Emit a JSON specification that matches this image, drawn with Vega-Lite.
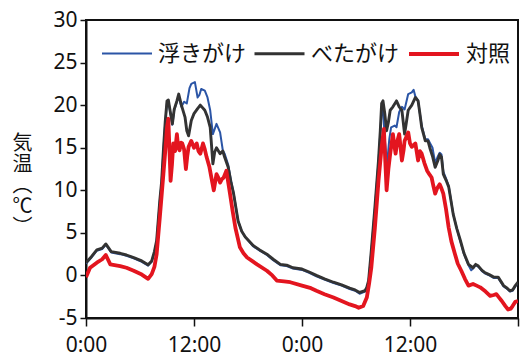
{
  "$schema": "https://vega.github.io/schema/vega-lite/v6.json",
  "width": 432,
  "height": 298,
  "autosize": {"type": "none"},
  "padding": {"left": 86, "top": 20, "right": 11, "bottom": 38},
  "config": {
    "view": {"stroke": "#111", "strokeWidth": 2},
    "font": "Noto Sans CJK JP",
    "background": "white"
  },
  "datasets": {
    "d": [
      {"t":0,"s":"浮きがけ","v":1.4},{"t":0.6,"s":"浮きがけ","v":2.1},{"t":1.2,"s":"浮きがけ","v":2.9},{"t":1.8,"s":"浮きがけ","v":3.1},{"t":2.2,"s":"浮きがけ","v":3.6},{"t":2.8,"s":"浮きがけ","v":2.7},{"t":3.8,"s":"浮きがけ","v":2.5},{"t":4.5,"s":"浮きがけ","v":2.3},{"t":5.3,"s":"浮きがけ","v":2.0},{"t":6.2,"s":"浮きがけ","v":1.6},{"t":6.9,"s":"浮きがけ","v":1.15},{"t":7.3,"s":"浮きがけ","v":1.6},{"t":7.6,"s":"浮きがけ","v":2.7},{"t":7.85,"s":"浮きがけ","v":4.0},{"t":8.2,"s":"浮きがけ","v":8.7},{"t":8.4,"s":"浮きがけ","v":10.9},{"t":8.6,"s":"浮きがけ","v":14.6},{"t":8.8,"s":"浮きがけ","v":17.9},{"t":9.0,"s":"浮きがけ","v":20.3},{"t":9.15,"s":"浮きがけ","v":20.5},{"t":9.4,"s":"浮きがけ","v":18.9},{"t":9.6,"s":"浮きがけ","v":17.7},{"t":9.8,"s":"浮きがけ","v":19.4},{"t":10.1,"s":"浮きがけ","v":20.4},{"t":10.3,"s":"浮きがけ","v":21.0},{"t":10.6,"s":"浮きがけ","v":19.8},{"t":10.9,"s":"浮きがけ","v":20.4},{"t":11.2,"s":"浮きがけ","v":20.2},{"t":11.5,"s":"浮きがけ","v":22.0},{"t":11.7,"s":"浮きがけ","v":22.5},{"t":12.1,"s":"浮きがけ","v":22.7},{"t":12.4,"s":"浮きがけ","v":20.9},{"t":12.6,"s":"浮きがけ","v":21.2},{"t":12.8,"s":"浮きがけ","v":21.9},{"t":13.2,"s":"浮きがけ","v":21.7},{"t":13.5,"s":"浮きがけ","v":20.9},{"t":13.8,"s":"浮きがけ","v":19.4},{"t":14.1,"s":"浮きがけ","v":16.6},{"t":14.5,"s":"浮きがけ","v":17.8},{"t":14.9,"s":"浮きがけ","v":16.8},{"t":15.2,"s":"浮きがけ","v":14.7},{"t":15.4,"s":"浮きがけ","v":14.3},{"t":15.8,"s":"浮きがけ","v":13.0},{"t":16.1,"s":"浮きがけ","v":11.2},{"t":16.4,"s":"浮きがけ","v":9.7},{"t":16.9,"s":"浮きがけ","v":6.4},{"t":17.3,"s":"浮きがけ","v":5.2},{"t":17.7,"s":"浮きがけ","v":4.5},{"t":18.6,"s":"浮きがけ","v":3.4},{"t":19.3,"s":"浮きがけ","v":2.9},{"t":20.1,"s":"浮きがけ","v":2.4},{"t":20.8,"s":"浮きがけ","v":1.8},{"t":21.6,"s":"浮きがけ","v":1.2},{"t":22.3,"s":"浮きがけ","v":1.1},{"t":23.0,"s":"浮きがけ","v":0.8},{"t":24.0,"s":"浮きがけ","v":0.65},{"t":24.8,"s":"浮きがけ","v":0.3},{"t":25.6,"s":"浮きがけ","v":-0.1},{"t":26.5,"s":"浮きがけ","v":-0.5},{"t":27.5,"s":"浮きがけ","v":-0.9},{"t":28.4,"s":"浮きがけ","v":-1.2},{"t":29.3,"s":"浮きがけ","v":-1.6},{"t":29.9,"s":"浮きがけ","v":-1.8},{"t":30.4,"s":"浮きがけ","v":-2.15},{"t":31.0,"s":"浮きがけ","v":-1.9},{"t":31.2,"s":"浮きがけ","v":-1.5},{"t":31.4,"s":"浮きがけ","v":-0.7},{"t":31.7,"s":"浮きがけ","v":2.8},{"t":32.1,"s":"浮きがけ","v":7.9},{"t":32.5,"s":"浮きがけ","v":13.4},{"t":32.7,"s":"浮きがけ","v":16.8},{"t":32.85,"s":"浮きがけ","v":19.4},{"t":33.0,"s":"浮きがけ","v":19.5},{"t":33.2,"s":"浮きがけ","v":16.0},{"t":33.45,"s":"浮きがけ","v":13.1},{"t":33.7,"s":"浮きがけ","v":16.0},{"t":33.9,"s":"浮きがけ","v":17.4},{"t":34.3,"s":"浮きがけ","v":17.6},{"t":34.5,"s":"浮きがけ","v":17.4},{"t":34.8,"s":"浮きがけ","v":19.2},{"t":35.1,"s":"浮きがけ","v":19.8},{"t":35.4,"s":"浮きがけ","v":19.5},{"t":35.8,"s":"浮きがけ","v":21.3},{"t":36.2,"s":"浮きがけ","v":21.5},{"t":36.4,"s":"浮きがけ","v":21.8},{"t":36.6,"s":"浮きがけ","v":21.0},{"t":36.9,"s":"浮きがけ","v":20.5},{"t":37.1,"s":"浮きがけ","v":19.0},{"t":37.3,"s":"浮きがけ","v":17.6},{"t":37.7,"s":"浮きがけ","v":16.0},{"t":38.0,"s":"浮きがけ","v":16.0},{"t":38.2,"s":"浮きがけ","v":15.6},{"t":38.5,"s":"浮きがけ","v":15.0},{"t":38.8,"s":"浮きがけ","v":13.2},{"t":39.1,"s":"浮きがけ","v":14.0},{"t":39.3,"s":"浮きがけ","v":14.4},{"t":39.5,"s":"浮きがけ","v":14.2},{"t":39.7,"s":"浮きがけ","v":12.2},{"t":40.0,"s":"浮きがけ","v":11.4},{"t":40.3,"s":"浮きがけ","v":10.5},{"t":40.8,"s":"浮きがけ","v":7.2},{"t":41.2,"s":"浮きがけ","v":5.5},{"t":41.6,"s":"浮きがけ","v":4.0},{"t":42.0,"s":"浮きがけ","v":2.5},{"t":42.5,"s":"浮きがけ","v":1.2},{"t":42.8,"s":"浮きがけ","v":0.6},{"t":43.0,"s":"浮きがけ","v":0.8},{"t":43.3,"s":"浮きがけ","v":1.2},{"t":43.6,"s":"浮きがけ","v":1.0},{"t":44.0,"s":"浮きがけ","v":0.5},{"t":44.3,"s":"浮きがけ","v":0.25},{"t":44.8,"s":"浮きがけ","v":0.0},{"t":45.3,"s":"浮きがけ","v":-0.3},{"t":45.8,"s":"浮きがけ","v":-0.3},{"t":46.1,"s":"浮きがけ","v":-0.8},{"t":46.4,"s":"浮きがけ","v":-1.3},{"t":46.8,"s":"浮きがけ","v":-1.6},{"t":47.1,"s":"浮きがけ","v":-1.9},{"t":47.4,"s":"浮きがけ","v":-1.8},{"t":47.7,"s":"浮きがけ","v":-1.3},{"t":48.0,"s":"浮きがけ","v":-0.9},

      {"t":0,"s":"べたがけ","v":1.5},{"t":0.6,"s":"べたがけ","v":2.2},{"t":1.2,"s":"べたがけ","v":3.0},{"t":1.8,"s":"べたがけ","v":3.2},{"t":2.2,"s":"べたがけ","v":3.7},{"t":2.8,"s":"べたがけ","v":2.8},{"t":3.8,"s":"べたがけ","v":2.6},{"t":4.5,"s":"べたがけ","v":2.4},{"t":5.3,"s":"べたがけ","v":2.1},{"t":6.2,"s":"べたがけ","v":1.7},{"t":6.9,"s":"べたがけ","v":1.25},{"t":7.3,"s":"べたがけ","v":1.7},{"t":7.6,"s":"べたがけ","v":2.8},{"t":7.85,"s":"べたがけ","v":4.1},{"t":8.2,"s":"べたがけ","v":8.8},{"t":8.4,"s":"べたがけ","v":11.0},{"t":8.6,"s":"べたがけ","v":14.7},{"t":8.8,"s":"べたがけ","v":18.0},{"t":9.0,"s":"べたがけ","v":20.5},{"t":9.15,"s":"べたがけ","v":20.6},{"t":9.4,"s":"べたがけ","v":19.0},{"t":9.6,"s":"べたがけ","v":17.8},{"t":9.8,"s":"べたがけ","v":19.5},{"t":10.1,"s":"べたがけ","v":20.5},{"t":10.3,"s":"べたがけ","v":21.3},{"t":10.6,"s":"べたがけ","v":20.0},{"t":11.0,"s":"べたがけ","v":18.6},{"t":11.2,"s":"べたがけ","v":17.0},{"t":11.4,"s":"べたがけ","v":16.4},{"t":11.7,"s":"べたがけ","v":18.2},{"t":12.0,"s":"べたがけ","v":19.0},{"t":12.4,"s":"べたがけ","v":19.6},{"t":12.7,"s":"べたがけ","v":20.0},{"t":13.2,"s":"べたがけ","v":19.4},{"t":13.5,"s":"べたがけ","v":18.6},{"t":13.8,"s":"べたがけ","v":17.4},{"t":14.1,"s":"べたがけ","v":13.1},{"t":14.3,"s":"べたがけ","v":14.5},{"t":14.5,"s":"べたがけ","v":15.0},{"t":14.9,"s":"べたがけ","v":14.3},{"t":15.2,"s":"べたがけ","v":14.6},{"t":15.4,"s":"べたがけ","v":13.9},{"t":15.8,"s":"べたがけ","v":12.7},{"t":16.1,"s":"べたがけ","v":11.0},{"t":16.4,"s":"べたがけ","v":9.6},{"t":16.9,"s":"べたがけ","v":6.4},{"t":17.3,"s":"べたがけ","v":5.2},{"t":17.7,"s":"べたがけ","v":4.5},{"t":18.6,"s":"べたがけ","v":3.5},{"t":19.3,"s":"べたがけ","v":3.0},{"t":20.1,"s":"べたがけ","v":2.5},{"t":20.8,"s":"べたがけ","v":1.9},{"t":21.6,"s":"べたがけ","v":1.3},{"t":22.3,"s":"べたがけ","v":1.2},{"t":23.0,"s":"べたがけ","v":0.9},{"t":24.0,"s":"べたがけ","v":0.75},{"t":24.8,"s":"べたがけ","v":0.4},{"t":25.6,"s":"べたがけ","v":0.0},{"t":26.5,"s":"べたがけ","v":-0.4},{"t":27.5,"s":"べたがけ","v":-0.8},{"t":28.4,"s":"べたがけ","v":-1.1},{"t":29.3,"s":"べたがけ","v":-1.5},{"t":29.9,"s":"べたがけ","v":-1.7},{"t":30.4,"s":"べたがけ","v":-2.0},{"t":31.0,"s":"べたがけ","v":-1.8},{"t":31.2,"s":"べたがけ","v":-1.4},{"t":31.4,"s":"べたがけ","v":-0.6},{"t":31.7,"s":"べたがけ","v":2.9},{"t":32.1,"s":"べたがけ","v":8.0},{"t":32.5,"s":"べたがけ","v":13.5},{"t":32.7,"s":"べたがけ","v":17.0},{"t":32.85,"s":"べたがけ","v":20.2},{"t":33.0,"s":"べたがけ","v":20.5},{"t":33.2,"s":"べたがけ","v":19.0},{"t":33.4,"s":"べたがけ","v":17.0},{"t":33.6,"s":"べたがけ","v":18.0},{"t":33.8,"s":"べたがけ","v":19.4},{"t":34.1,"s":"べたがけ","v":19.8},{"t":34.5,"s":"べたがけ","v":20.5},{"t":34.8,"s":"べたがけ","v":19.8},{"t":35.1,"s":"べたがけ","v":19.4},{"t":35.4,"s":"べたがけ","v":16.6},{"t":35.6,"s":"べたがけ","v":18.0},{"t":35.8,"s":"べたがけ","v":19.4},{"t":36.2,"s":"べたがけ","v":20.0},{"t":36.6,"s":"べたがけ","v":20.9},{"t":36.9,"s":"べたがけ","v":20.5},{"t":37.1,"s":"べたがけ","v":19.0},{"t":37.3,"s":"べたがけ","v":17.4},{"t":37.7,"s":"べたがけ","v":15.8},{"t":38.0,"s":"べたがけ","v":15.8},{"t":38.2,"s":"べたがけ","v":15.0},{"t":38.5,"s":"べたがけ","v":14.0},{"t":38.8,"s":"べたがけ","v":12.7},{"t":39.1,"s":"べたがけ","v":13.5},{"t":39.3,"s":"べたがけ","v":14.2},{"t":39.5,"s":"べたがけ","v":13.9},{"t":39.7,"s":"べたがけ","v":11.9},{"t":40.0,"s":"べたがけ","v":11.2},{"t":40.3,"s":"べたがけ","v":10.4},{"t":40.8,"s":"べたがけ","v":7.2},{"t":41.2,"s":"べたがけ","v":5.5},{"t":41.6,"s":"べたがけ","v":4.1},{"t":42.0,"s":"べたがけ","v":2.6},{"t":42.5,"s":"べたがけ","v":1.3},{"t":43.0,"s":"べたがけ","v":0.9},{"t":43.3,"s":"べたがけ","v":1.3},{"t":43.6,"s":"べたがけ","v":1.1},{"t":44.0,"s":"べたがけ","v":0.6},{"t":44.3,"s":"べたがけ","v":0.35},{"t":44.8,"s":"べたがけ","v":0.1},{"t":45.3,"s":"べたがけ","v":-0.2},{"t":45.8,"s":"べたがけ","v":-0.2},{"t":46.1,"s":"べたがけ","v":-0.7},{"t":46.4,"s":"べたがけ","v":-1.2},{"t":46.8,"s":"べたがけ","v":-1.5},{"t":47.1,"s":"べたがけ","v":-1.8},{"t":47.4,"s":"べたがけ","v":-1.7},{"t":47.7,"s":"べたがけ","v":-1.2},{"t":48.0,"s":"べたがけ","v":-0.8},

      {"t":0,"s":"対照","v":-0.2},{"t":0.45,"s":"対照","v":0.9},{"t":1.2,"s":"対照","v":1.5},{"t":1.8,"s":"対照","v":1.9},{"t":2.2,"s":"対照","v":2.4},{"t":2.7,"s":"対照","v":1.3},{"t":3.8,"s":"対照","v":1.1},{"t":4.5,"s":"対照","v":0.9},{"t":5.3,"s":"対照","v":0.55},{"t":6.2,"s":"対照","v":0.1},{"t":6.9,"s":"対照","v":-0.4},{"t":7.3,"s":"対照","v":0.15},{"t":7.6,"s":"対照","v":1.0},{"t":7.85,"s":"対照","v":2.5},{"t":8.2,"s":"対照","v":6.8},{"t":8.6,"s":"対照","v":11.9},{"t":8.8,"s":"対照","v":14.5},{"t":9.0,"s":"対照","v":17.4},{"t":9.15,"s":"対照","v":18.4},{"t":9.3,"s":"対照","v":14.0},{"t":9.4,"s":"対照","v":11.1},{"t":9.55,"s":"対照","v":13.0},{"t":9.7,"s":"対照","v":15.5},{"t":9.9,"s":"対照","v":14.6},{"t":10.1,"s":"対照","v":16.6},{"t":10.25,"s":"対照","v":15.0},{"t":10.4,"s":"対照","v":14.7},{"t":10.55,"s":"対照","v":15.6},{"t":10.7,"s":"対照","v":15.5},{"t":10.9,"s":"対照","v":14.8},{"t":11.1,"s":"対照","v":12.5},{"t":11.25,"s":"対照","v":14.0},{"t":11.4,"s":"対照","v":15.1},{"t":11.7,"s":"対照","v":15.8},{"t":12.0,"s":"対照","v":15.0},{"t":12.3,"s":"対照","v":15.5},{"t":12.5,"s":"対照","v":14.6},{"t":12.7,"s":"対照","v":14.3},{"t":13.0,"s":"対照","v":15.5},{"t":13.2,"s":"対照","v":14.8},{"t":13.4,"s":"対照","v":13.9},{"t":13.7,"s":"対照","v":12.8},{"t":14.0,"s":"対照","v":11.1},{"t":14.2,"s":"対照","v":10.0},{"t":14.5,"s":"対照","v":11.9},{"t":14.7,"s":"対照","v":11.5},{"t":14.9,"s":"対照","v":10.9},{"t":15.1,"s":"対照","v":11.3},{"t":15.3,"s":"対照","v":11.5},{"t":15.6,"s":"対照","v":12.3},{"t":16.0,"s":"対照","v":9.6},{"t":16.3,"s":"対照","v":7.5},{"t":16.6,"s":"対照","v":5.6},{"t":17.1,"s":"対照","v":3.3},{"t":17.5,"s":"対照","v":2.6},{"t":17.9,"s":"対照","v":2.1},{"t":19.0,"s":"対照","v":1.3},{"t":20.1,"s":"対照","v":0.55},{"t":20.7,"s":"対照","v":0.0},{"t":21.2,"s":"対照","v":-0.6},{"t":22.0,"s":"対照","v":-0.7},{"t":22.7,"s":"対照","v":-0.8},{"t":24.0,"s":"対照","v":-1.2},{"t":25.0,"s":"対照","v":-1.5},{"t":25.6,"s":"対照","v":-1.8},{"t":26.5,"s":"対照","v":-2.2},{"t":27.5,"s":"対照","v":-2.6},{"t":28.4,"s":"対照","v":-3.0},{"t":29.3,"s":"対照","v":-3.4},{"t":29.9,"s":"対照","v":-3.6},{"t":30.3,"s":"対照","v":-3.8},{"t":30.8,"s":"対照","v":-3.6},{"t":31.2,"s":"対照","v":-2.6},{"t":31.45,"s":"対照","v":-1.0},{"t":31.7,"s":"対照","v":0.9},{"t":32.1,"s":"対照","v":5.6},{"t":32.5,"s":"対照","v":11.1},{"t":32.85,"s":"対照","v":15.1},{"t":33.1,"s":"対照","v":17.2},{"t":33.25,"s":"対照","v":13.5},{"t":33.4,"s":"対照","v":10.0},{"t":33.6,"s":"対照","v":12.5},{"t":33.8,"s":"対照","v":14.3},{"t":34.1,"s":"対照","v":16.6},{"t":34.3,"s":"対照","v":15.0},{"t":34.4,"s":"対照","v":14.3},{"t":34.6,"s":"対照","v":15.8},{"t":34.8,"s":"対照","v":16.6},{"t":35.1,"s":"対照","v":13.5},{"t":35.3,"s":"対照","v":14.8},{"t":35.4,"s":"対照","v":15.8},{"t":35.8,"s":"対照","v":16.8},{"t":36.0,"s":"対照","v":15.5},{"t":36.2,"s":"対照","v":15.1},{"t":36.6,"s":"対照","v":15.5},{"t":36.9,"s":"対照","v":13.5},{"t":37.1,"s":"対照","v":14.6},{"t":37.3,"s":"対照","v":14.3},{"t":37.6,"s":"対照","v":13.2},{"t":37.9,"s":"対照","v":12.3},{"t":38.2,"s":"対照","v":11.8},{"t":38.4,"s":"対照","v":11.5},{"t":38.6,"s":"対照","v":10.5},{"t":38.8,"s":"対照","v":9.6},{"t":39.0,"s":"対照","v":10.2},{"t":39.3,"s":"対照","v":10.7},{"t":39.5,"s":"対照","v":10.2},{"t":39.7,"s":"対照","v":9.6},{"t":40.0,"s":"対照","v":7.8},{"t":40.3,"s":"対照","v":5.6},{"t":40.6,"s":"対照","v":4.0},{"t":41.0,"s":"対照","v":2.5},{"t":41.3,"s":"対照","v":1.4},{"t":41.7,"s":"対照","v":0.55},{"t":42.1,"s":"対照","v":-0.4},{"t":42.5,"s":"対照","v":-1.2},{"t":43.0,"s":"対照","v":-1.0},{"t":43.4,"s":"対照","v":-1.2},{"t":43.8,"s":"対照","v":-1.4},{"t":44.4,"s":"対照","v":-1.9},{"t":44.9,"s":"対照","v":-2.4},{"t":45.3,"s":"対照","v":-2.3},{"t":45.6,"s":"対照","v":-2.2},{"t":45.9,"s":"対照","v":-2.6},{"t":46.2,"s":"対照","v":-3.0},{"t":46.6,"s":"対照","v":-3.6},{"t":46.9,"s":"対照","v":-4.0},{"t":47.2,"s":"対照","v":-3.9},{"t":47.4,"s":"対照","v":-3.6},{"t":47.7,"s":"対照","v":-3.1},{"t":48.0,"s":"対照","v":-3.0}
    ]
  },
  "data": {"name": "d"},
  "mark": {"type": "line", "strokeJoin": "round", "clip": true},
  "encoding": {
    "x": {
      "field": "t", "type": "quantitative",
      "scale": {"domain": [0, 48], "nice": false, "zero": false},
      "axis": {
        "values": [0, 12, 24, 36, 48],
        "labelExpr": "datum.value == 48 ? '' : (datum.value % 24 == 0 ? '0:00' : '12:00')",
        "grid": false, "title": null,
        "domainColor": "#111", "domainWidth": 2,
        "tickColor": "#111", "tickWidth": 1.5, "tickSize": 8,
        "labelFont": "Noto Sans", "labelFontSize": 21, "labelColor": "#111",
        "labelPadding": 8, "labelFlush": false, "labelOverlap": false
      }
    },
    "y": {
      "field": "v", "type": "quantitative",
      "scale": {"domain": [-5, 30], "nice": false, "zero": false},
      "axis": {
        "values": [-5, 0, 5, 10, 15, 20, 25, 30],
        "labelExpr": "datum.value < 0 ? '-' + abs(datum.value) : '' + datum.value",
        "grid": false,
        "title": ["気", "温", "︵", "℃", "︶"],
        "titleAngle": 0, "titleX": -64, "titleY": 123,
        "titleAlign": "center", "titleBaseline": "middle",
        "titleFont": "Noto Sans CJK JP", "titleFontSize": 20, "titleLineHeight": 21,
        "titleFontWeight": "normal", "titleColor": "#111",
        "domainColor": "#111", "domainWidth": 2,
        "tickColor": "#111", "tickWidth": 1.5, "tickSize": 6,
        "labelFont": "Noto Sans", "labelFontSize": 21, "labelColor": "#111",
        "labelPadding": 3, "labelFlush": false, "labelOverlap": false
      }
    },
    "color": {
      "field": "s", "type": "nominal",
      "sort": ["浮きがけ", "べたがけ", "対照"],
      "scale": {"domain": ["浮きがけ", "べたがけ", "対照"], "range": ["#2b55a6", "#333333", "#e3151f"]},
      "legend": {
        "orient": "none", "legendX": 15, "legendY": 7,
        "direction": "horizontal", "title": null,
        "symbolType": "stroke", "symbolSize": 2500, "symbolStrokeWidth": 3,
        "labelFont": "Noto Sans CJK JP", "labelFontSize": 22, "labelColor": "#111",
        "labelOffset": 5, "columnPadding": 1, "padding": 0, "labelLimit": 200
      }
    },
    "strokeWidth": {
      "field": "s", "type": "nominal",
      "scale": {"domain": ["浮きがけ", "べたがけ", "対照"], "range": [2, 3.8, 2]},
      "legend": null
    }
  }
}
